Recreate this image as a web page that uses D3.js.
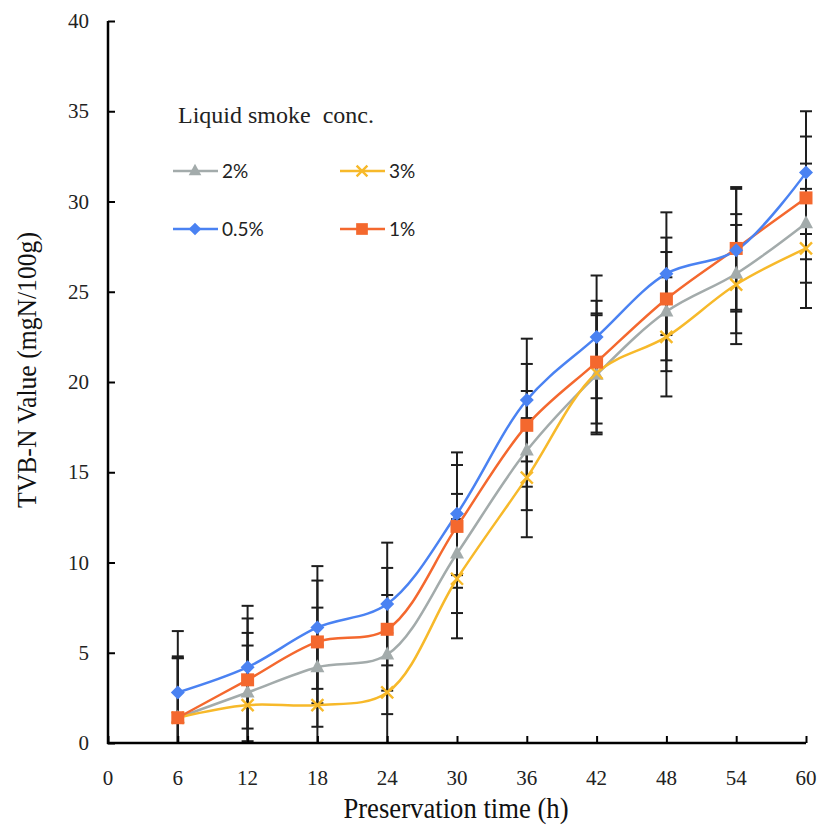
<!DOCTYPE html>
<html><head><meta charset="utf-8">
<script src="https://cdn.jsdelivr.net/npm/d3@7"></script>
<style>body{margin:0;background:#fff}</style>
</head><body>
<svg id="c" width="825" height="834"></svg>
<script>
const times = [6,12,18,24,30,36,42,48,54,60];
const xTicks = [0,6,12,18,24,30,36,42,48,54,60];
const yTicks = [0,5,10,15,20,25,30,35,40];
const seriesNames = ["2%","3%","0.5%","1%"];
const s2 = [1.4,2.8,4.2,4.9,10.5,16.2,20.4,23.9,26.0,28.8];
const s3 = [1.4,2.1,2.1,2.8,9.1,14.7,20.5,22.5,25.4,27.4];
const s05 = [2.8,4.2,6.4,7.7,12.7,19.0,22.5,26.0,27.3,31.6];
const s1 = [1.4,3.5,5.6,6.3,12.0,17.6,21.1,24.6,27.4,30.2];
const err2 = [3.3,3.3,3.3,3.3,3.3,3.3,3.3,3.3,3.3,3.3];
const err3 = [3.3,3.3,3.3,3.3,3.3,3.3,3.3,3.3,3.3,3.3];
const err05 = [3.4,3.4,3.4,3.4,3.4,3.4,3.4,3.4,3.4,3.4];
const err1 = [3.4,3.4,3.4,3.4,3.4,3.4,3.4,3.4,3.4,3.4];

const series = [
  {name:seriesNames[0], vals:s2, err:err2, color:"#a3abab", sym:"tri"},
  {name:seriesNames[1], vals:s3, err:err3, color:"#f7b92a", sym:"x"},
  {name:seriesNames[2], vals:s05, err:err05, color:"#4a82f2", sym:"dia"},
  {name:seriesNames[3], vals:s1, err:err1, color:"#f4682e", sym:"sq"}
];

const svg = d3.select("#c");
const x = d3.scaleLinear().domain([0,60]).range([108,806]);
const y = d3.scaleLinear().domain([0,40]).range([743,21]);

// error bars (behind)
const eb = svg.append("g");
series.forEach(s=>{
  s.vals.forEach((v,i)=>{
    const lo = Math.max(0, v - s.err[i]), hi = v + s.err[i];
    const cx = x(times[i]);
    eb.append("line").attr("x1",cx).attr("x2",cx).attr("y1",y(lo)).attr("y2",y(hi))
      .attr("stroke","#1e1e1e").attr("stroke-width",2);
    eb.append("line").attr("x1",cx-6).attr("x2",cx+6).attr("y1",y(hi)).attr("y2",y(hi))
      .attr("stroke","#1e1e1e").attr("stroke-width",2);
    if (v - s.err[i] > 0)
      eb.append("line").attr("x1",cx-6).attr("x2",cx+6).attr("y1",y(lo)).attr("y2",y(lo))
        .attr("stroke","#1e1e1e").attr("stroke-width",2);
  });
});

// axes
const yAxis = d3.axisRight(y).tickValues(yTicks).tickSize(7).tickFormat("");
const gy = svg.append("g").attr("transform","translate(108,0)").call(yAxis);
const xAxis = d3.axisTop(x).tickValues(xTicks).tickSize(7).tickFormat("");
const gx = svg.append("g").attr("transform","translate(0,743)").call(xAxis);
[gx,gy].forEach(g=>{
  g.select(".domain").attr("stroke","#000").attr("stroke-width",2.5);
  g.selectAll(".tick line").attr("stroke","#000").attr("stroke-width",2);
});
gx.select(".domain").attr("d","M107,0H806");
gy.select(".domain").attr("d","M0,21V744");

// tick labels
svg.append("g").selectAll("text").data(yTicks).join("text")
  .attr("x",89).attr("y",d=>y(d)).attr("dy","0.34em").attr("text-anchor","end")
  .attr("font-family","Liberation Serif").attr("font-size",21).attr("fill","#222")
  .text(d=>d);
svg.append("g").selectAll("text").data(xTicks).join("text")
  .attr("x",d=>x(d)).attr("y",785).attr("text-anchor","middle")
  .attr("font-family","Liberation Serif").attr("font-size",21).attr("fill","#222")
  .text(d=>d);

// axis titles
svg.append("text").attr("transform","translate(456,818) scale(0.92,1)").attr("text-anchor","middle")
  .attr("font-family","Liberation Serif").attr("font-size",29).attr("fill","#111")
  .text("Preservation time (h)");
svg.append("text").attr("transform","translate(36,370) rotate(-90) scale(0.95,1)").attr("text-anchor","middle")
  .attr("font-family","Liberation Serif").attr("font-size",27).attr("fill","#111")
  .text("TVB-N Value (mgN/100g)");

// lines
const line = d3.line().x((d,i)=>x(times[i])).y(d=>y(d)).curve(d3.curveCatmullRom.alpha(0.5));
function drawMarker(g, s, cx, cy, k){
  k = k||1;
  let d;
  if (s.sym === "x") {
    const r = 6*k;
    g.append("path").attr("d",`M${cx-r},${cy-r}L${cx+r},${cy+r}M${cx-r},${cy+r}L${cx+r},${cy-r}`)
      .attr("stroke",s.color).attr("stroke-width",2.4).attr("fill","none");
    return;
  } else if (s.sym === "tri") {
    const r = 7*k;
    d = `M${cx},${cy-r-1}L${cx+r},${cy+r-2}L${cx-r},${cy+r-2}Z`;
  } else if (s.sym === "dia") {
    const r = 7*k;
    d = `M${cx},${cy-r}L${cx+r},${cy}L${cx},${cy+r}L${cx-r},${cy}Z`;
  } else {
    const r = 6.5*k;
    d = `M${cx-r},${cy-r}H${cx+r}V${cy+r}H${cx-r}Z`;
  }
  g.append("path").attr("d",d).attr("fill",s.color);
}
const drawOrder = [series[0],series[1],series[3],series[2]];
drawOrder.forEach(s=>{
  svg.append("path").datum(s.vals).attr("d",line).attr("fill","none")
    .attr("stroke",s.color).attr("stroke-width",2.5);
});
drawOrder.forEach(s=>{
  const g = svg.append("g");
  s.vals.forEach((v,i)=>drawMarker(g,s,x(times[i]),y(v)));
});

// legend
svg.append("text").attr("x",178).attr("y",123).attr("font-family","Liberation Serif")
  .attr("font-size",24).attr("fill","#222").text("Liquid smoke  conc.").attr("xml:space","preserve")
  .style("white-space","pre");
const legPos = [[173,171],[340,171],[173,229],[340,229]];
series.forEach((s,i)=>{
  const [lx,ly] = legPos[i];
  const g = svg.append("g");
  g.append("line").attr("x1",lx).attr("x2",lx+45).attr("y1",ly).attr("y2",ly)
    .attr("stroke",s.color).attr("stroke-width",2.5);
  drawMarker(g,s,lx+22,ly,0.9);
  g.append("text").attr("x",lx+49).attr("y",ly).attr("dy","0.36em")
    .attr("font-family","Lato").attr("font-size",19).attr("fill","#222").text(s.name);
});
</script>
</body></html>
